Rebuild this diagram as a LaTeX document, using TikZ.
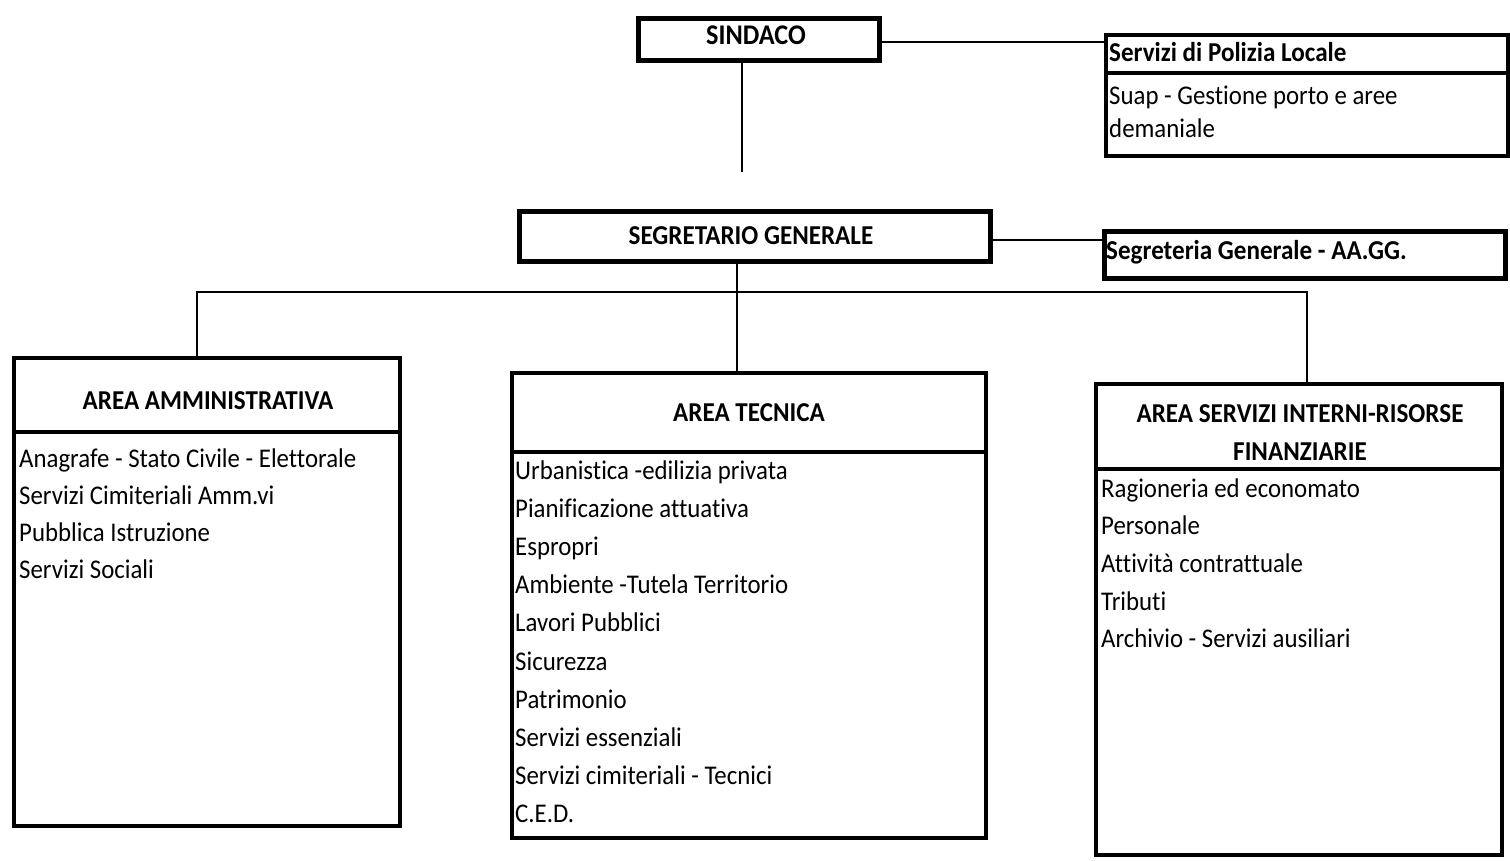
\documentclass[tikz,border=0pt]{standalone}
\usepackage{fontspec}
\setmainfont[Ligatures=NoCommon]{Carlito}
\newfontfamily\scanfont[FakeStretch=0.92, Ligatures=NoCommon]{Carlito}
\begin{document}
\begin{tikzpicture}[x=1pt,y=-1pt,
  frame/.style={draw, line width=3.5pt, inner sep=0pt, anchor=north west},
  topframe/.style={draw, line width=5pt, inner sep=0pt, anchor=north west},
  divider/.style={line width=3.5pt},
  conn/.style={line width=2.8pt},
  head/.style={font=\scanfont\bfseries\fontsize{27.3}{39}\selectfont, inner sep=0pt},
  headl/.style={font=\scanfont\bfseries\fontsize{27.3}{29}\selectfont, inner sep=0pt, anchor=base west},
  item/.style={font=\scanfont\fontsize{27}{29}\selectfont, inner sep=0pt, anchor=base west}]
\useasboundingbox (0,0) rectangle (1510,860);

% ---------- top row ----------
\node[topframe, minimum width=241pt, minimum height=42pt] (sind) at (636,16) {};
\node[head, anchor=base, font=\scanfont\bfseries\fontsize{28.5}{30}\selectfont] (sindt) at (756,44) {SINDACO};

\node[frame, minimum width=402pt, minimum height=121pt] (pol) at (1104,33) {};
\draw[divider] (pol.west |- 0,73) -- (pol.east |- 0,73);
\node[headl] (polh) at (1109,61) {Servizi di Polizia Locale};
\node[item] (pol1) at (1109,104) {Suap - Gestione porto e aree};
\node[item] (pol2) at (1109,137) {demaniale};

\coordinate (j1) at (0,42);
\draw[conn] (sind.east |- j1) -- (pol.west |- j1);
\coordinate (send) at (742,172);
\draw[conn] (sind.south -| send) -- (send);

% ---------- second row ----------
\node[topframe, minimum width=471pt, minimum height=50pt] (segr) at (517,209) {};
\node[head, anchor=base] (segrt) at (751,244) {SEGRETARIO GENERALE};

\node[topframe, minimum width=401pt, minimum height=47pt] (segt) at (1102,229) {};
\node[headl] (segtt) at (1106,259) {Segreteria Generale - AA.GG.};

\coordinate (j2) at (0,240);
\draw[conn] (segr.east |- j2) -- (segt.west |- j2);

% ---------- area boxes ----------
\node[frame, minimum width=386pt, minimum height=468pt] (aa) at (12,356) {};
\draw[divider] (aa.west |- 0,432) -- (aa.east |- 0,432);
\node[head, anchor=base] (aah) at (208,409) {AREA AMMINISTRATIVA};
\foreach \t [count=\i] in {Anagrafe - Stato Civile - Elettorale, Servizi Cimiteriali Amm.vi, Pubblica Istruzione, Servizi Sociali}
  \node[item] (aa\i) at (19,{467+37.3*(\i-1)}) {\t};

\node[frame, minimum width=474pt, minimum height=465pt] (at) at (510,371) {};
\draw[divider] (at.west |- 0,452) -- (at.east |- 0,452);
\node[head, anchor=base] (ath) at (749,421) {AREA TECNICA};
\foreach \t [count=\i] in {Urbanistica -edilizia privata, Pianificazione attuativa, Espropri, Ambiente -Tutela Territorio, Lavori Pubblici, Sicurezza, Patrimonio, Servizi essenziali, Servizi cimiteriali - Tecnici, C.E.D.}
  \node[item] (at\i) at (515,{479+38.2*(\i-1)}) {\t};

\node[frame, minimum width=406pt, minimum height=471pt] (af) at (1094,382) {};
\draw[divider] (af.west |- 0,469) -- (af.east |- 0,469);
\node[head, anchor=base] (afh1) at (1300,422) {AREA SERVIZI INTERNI-RISORSE};
\node[head, anchor=base] (afh2) at (1300,460) {FINANZIARIE};
\foreach \t [count=\i] in {Ragioneria ed economato, Personale, Attività contrattuale, Tributi, Archivio - Servizi ausiliari}
  \node[item] (af\i) at (1101,{497+37.7*(\i-1)}) {\t};

% ---------- connectors ----------
\coordinate (bus) at (737,292);
\coordinate (busL) at (197,292);
\coordinate (busR) at (1307,292);
\draw[conn] (segr.south -| bus) -- (at.north -| bus);
\draw[conn] (aa.north -| busL) -- (busL) -- (busR) -- (af.north -| busR);
\end{tikzpicture}
\end{document}
